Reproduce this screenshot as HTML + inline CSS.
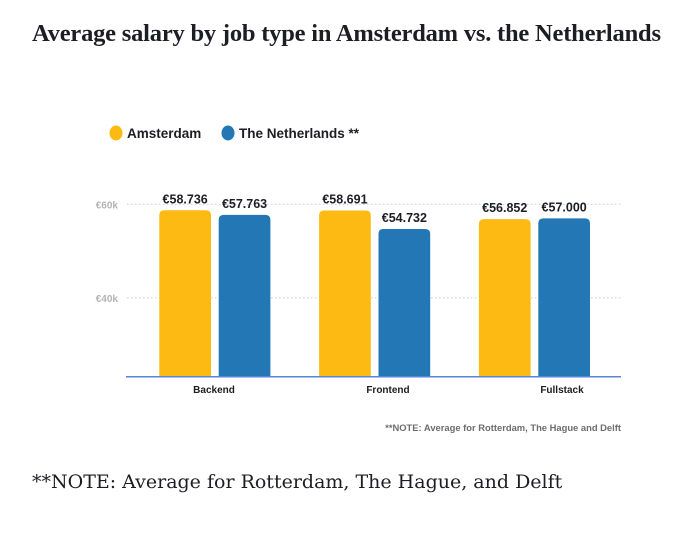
<!DOCTYPE html>
<html><head><meta charset="utf-8"><style>
html,body{margin:0;padding:0;background:#fff;}
body{width:700px;height:535px;position:relative;overflow:hidden;}
.title{position:absolute;left:32px;top:20px;font-family:"Liberation Serif",serif;font-weight:bold;font-size:24.5px;color:#1d1d24;letter-spacing:-0.2px;white-space:nowrap;}
.foot{position:absolute;left:32px;top:471px;font-family:"DejaVu Serif","Liberation Serif",serif;font-size:19px;color:#1d1d24;white-space:nowrap;}
svg{position:absolute;left:0;top:0;}
</style></head><body>
<div class="title">Average salary by job type in Amsterdam vs. the Netherlands</div>
<svg id="chart" width="700" height="535"></svg>
<div class="foot">**NOTE: Average for Rotterdam, The Hague, and Delft</div>
<script>
const categories = ["Backend", "Frontend", "Fullstack"];
const amsterdam = [58736, 58691, 56852];
const netherlands = [57763, 54732, 57000];
const ticks = [40000, 60000];
const tickLabels = ["€40k", "€60k"];
const amsLabels = ["€58.736", "€58.691", "€56.852"];
const nlLabels = ["€57.763", "€54.732", "€57.000"];

const NS = "http://www.w3.org/2000/svg";
const svg = document.getElementById("chart");
const y0 = 376.7, yMin = 23100, pxPer = 93.4 / 20000;
function yScale(v){ return y0 - (v - yMin) * pxPer; }
const groupStart = 159.3, groupStep = 159.8, barW = 51.7, barGap = 7.7;
function xBar(i, s){ return groupStart + i * groupStep + s * (barW + barGap); }
const labelX = [214, 388, 562];
function mk(tag, attrs){ const e = document.createElementNS(NS, tag); for (const k in attrs) e.setAttribute(k, attrs[k]); svg.appendChild(e); return e; }

ticks.forEach((t, i) => {
  const g = mk("line", {x1:127, x2:621, y1:yScale(t), y2:yScale(t), stroke:"#c9def0", "stroke-width":1.2, "stroke-dasharray":"1.5 2.5"});
  
  
  const tl = mk("text", {x:118, y:yScale(t)+4, "text-anchor":"end", "font-family":"Liberation Sans, sans-serif", "font-size":10, "font-weight":"bold", fill:"#b4b4b4"});
  tl.textContent = tickLabels[i];
  
  
});

const series = [[amsterdam, "#fdba12", amsLabels], [netherlands, "#2277b4", nlLabels]];
categories.forEach((c, i) => {
  series.forEach((s, si) => {
    const v = s[0][i], x = xBar(i, si), yt = yScale(v);
    const r = 5;
    const p = mk("path", {d:`M${x},${y0} V${yt+r} Q${x},${yt} ${x+r},${yt} H${x+barW-r} Q${x+barW},${yt} ${x+barW},${yt+r} V${y0} Z`, fill:s[1]});
    
    
    const t = mk("text", {x:x+barW/2, y:yt-7, "text-anchor":"middle", "font-family":"Liberation Sans, sans-serif", "font-size":12.5, "font-weight":"bold", fill:"#1d1d24"});
    t.textContent = s[2][i];
    
    
  });
  const cl = mk("text", {x:labelX[i], y:393, "text-anchor":"middle", "font-family":"Liberation Sans, sans-serif", "font-size":10, "font-weight":"bold", fill:"#1d1d24"});
  cl.textContent = c;
  
  
});

const ax = mk("line", {x1:126, x2:621, y1:y0, y2:y0, stroke:"#5a82d8", "stroke-width":1.5});



const leg = [["Amsterdam", "#fdba12", 116], ["The Netherlands **", "#2277b4", 228]];
leg.forEach(l => {
  const c = mk("ellipse", {cx:l[2], cy:133, rx:6.5, ry:7.5, fill:l[1]});
  
  
  const t = mk("text", {x:l[2]+11, y:138, "font-family":"Liberation Sans, sans-serif", "font-size":13.5, "font-weight":"bold", fill:"#1d1d24"});
  t.textContent = l[0];
  
  
});

const note = mk("text", {x:621, y:431, "text-anchor":"end", "font-family":"Liberation Sans, sans-serif", "font-size":9.4, "font-weight":"bold", fill:"#6d6d6d"});
note.textContent = "**NOTE: Average for Rotterdam, The Hague and Delft";


</script>
</body></html>
